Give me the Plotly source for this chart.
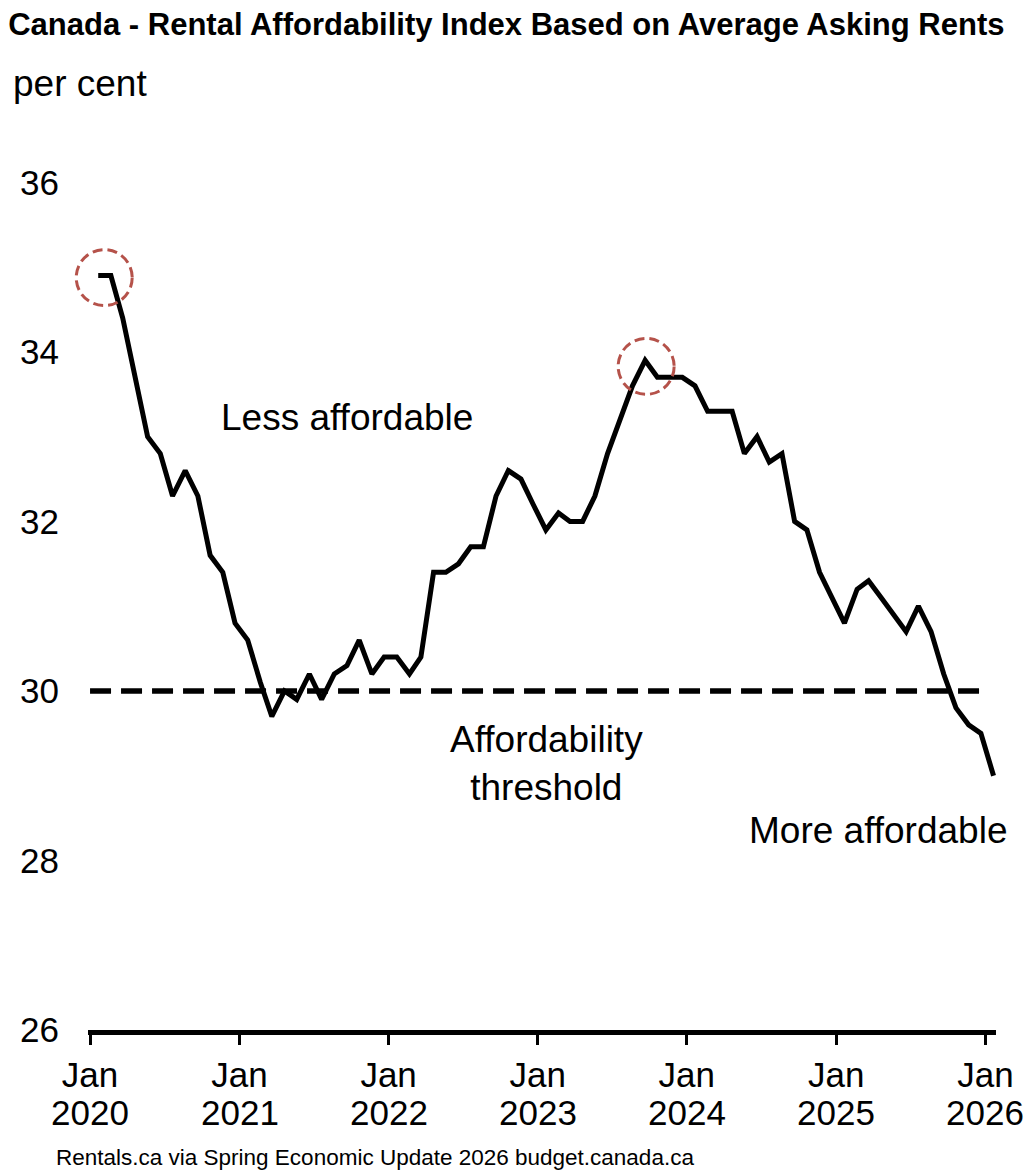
import pandas as pd
import plotly.graph_objects as go

# Monthly rental affordability index, Jan 2020 - Jan 2026 (per cent)
months = pd.date_range("2020-01-01", "2026-01-01", freq="MS").strftime("%Y-%m").tolist()
index_values = [
    34.9, 34.9, 34.4, 33.7, 33.0, 32.8, 32.3, 32.6, 32.3, 31.6, 31.4, 30.8,  # 2020
    30.6, 30.1, 29.7, 30.0, 29.9, 30.2, 29.9, 30.2, 30.3, 30.6, 30.2, 30.4,  # 2021
    30.4, 30.2, 30.4, 31.4, 31.4, 31.5, 31.7, 31.7, 32.3, 32.6, 32.5, 32.2,  # 2022
    31.9, 32.1, 32.0, 32.0, 32.3, 32.8, 33.2, 33.6, 33.9, 33.7, 33.7, 33.7,  # 2023
    33.6, 33.3, 33.3, 33.3, 32.8, 33.0, 32.7, 32.8, 32.0, 31.9, 31.4, 31.1,  # 2024
    30.8, 31.2, 31.3, 31.1, 30.9, 30.7, 31.0, 30.7, 30.2, 29.8, 29.6, 29.5,  # 2025
    29.0,                                                                    # 2026
]
threshold = 30
threshold_span = ["2020-01-01", "2026-01-01"]

tick_dates = ["2020-01-01", "2021-01-01", "2022-01-01", "2023-01-01",
              "2024-01-01", "2025-01-01", "2026-01-01"]
tick_months = ["Jan"] * 7
tick_years = ["2020", "2021", "2022", "2023", "2024", "2025", "2026"]
y_ticks = [26, 28, 30, 32, 34, 36]

x_range = ["2019-12-27", "2026-01-27"]

# points sit a little after the month tick in the original chart
x = pd.to_datetime(months) + pd.Timedelta(days=20)

BODY = "Liberation Sans, Arial, Helvetica, sans-serif"
RED = "#b5524a"

fig = go.Figure()

fig.add_trace(go.Scatter(
    x=threshold_span, y=[threshold, threshold], mode="lines",
    line=dict(color="black", width=5.5, dash="21px,10px"),
    hoverinfo="skip", showlegend=False,
))
fig.add_trace(go.Scatter(
    x=x, y=index_values, mode="lines",
    line=dict(color="black", width=5),
    showlegend=False,
))

# dashed circles round the two peaks (x given as paper fraction so the
# first circle is not clipped at the left edge of the plot area)
r0, r1 = pd.to_datetime(x_range)
peak1 = 0
peak2 = index_values.index(max(index_values[24:]))
for i, dx, dy in [(peak1, 6, -2), (peak2, 1, -6)]:
    fig.add_shape(
        type="circle", xref="paper", yref="y", xsizemode="pixel", ysizemode="pixel",
        xanchor=(x[i] - r0) / (r1 - r0), yanchor=index_values[i],
        x0=dx - 28, x1=dx + 28, y0=dy - 28, y1=dy + 28,
        line=dict(color=RED, width=3, dash="10px,5px"),
    )

def label(text, px, py):
    fig.add_annotation(text=text, xref="paper", yref="paper", x=px, y=py,
                       xanchor="center", yanchor="middle", showarrow=False,
                       font=dict(family=BODY, size=37, color="black"))

label("Less affordable", 0.285, 0.688)
label("Affordability<br>threshold", 0.5055, 0.299)
label("More affordable", 0.870, 0.2247)

fig.add_annotation(text="per cent", xref="paper", yref="paper",
                   x=0, y=1, xanchor="left", yanchor="middle",
                   xshift=-77, yshift=57, showarrow=False,
                   font=dict(family=BODY, size=37, color="black"))

# second line of the x tick labels, set tighter than a <br> would
for d, yr in zip(tick_dates, tick_years):
    fig.add_annotation(text=yr, xref="x", yref="paper", x=d, y=0,
                       xanchor="center", yanchor="middle", yshift=-82,
                       showarrow=False,
                       font=dict(family=BODY, size=35, color="black"))

fig.add_annotation(text="Rentals.ca via Spring Economic Update 2026 budget.canada.ca",
                   xref="paper", yref="paper", x=0, y=0, xanchor="left",
                   yanchor="middle", xshift=-34, yshift=-127, showarrow=False,
                   font=dict(family=BODY, size=22.5, color="black"))

fig.update_layout(
    width=1028, height=1173,
    margin=dict(l=88, r=32, t=140, b=143),
    paper_bgcolor="white", plot_bgcolor="white",
    title=dict(text="<b>Canada - Rental Affordability Index Based on Average Asking Rents</b>",
               x=0.008, xanchor="left", y=0.979, yanchor="middle",
               font=dict(family=BODY, size=31, color="black")),
    xaxis=dict(
        type="date", range=x_range,
        tickvals=tick_dates, ticktext=tick_months,
        showgrid=False, zeroline=False,
        showline=True, linecolor="black", linewidth=4.5,
        ticks="outside", ticklen=10, tickwidth=3, tickcolor="black",
        tickfont=dict(family=BODY, size=35, color="black"),
    ),
    yaxis=dict(
        range=[26, 36.5], tickvals=y_ticks,
        showgrid=False, zeroline=False, showline=False,
        ticks="", ticklabelstandoff=28,
        tickfont=dict(family=BODY, size=35, color="black"),
    ),
)

fig.write_html("out.html", config={"displayModeBar": False},
               post_script="document.body.style.margin='0';"
                           "document.body.style.overflow='hidden';")
